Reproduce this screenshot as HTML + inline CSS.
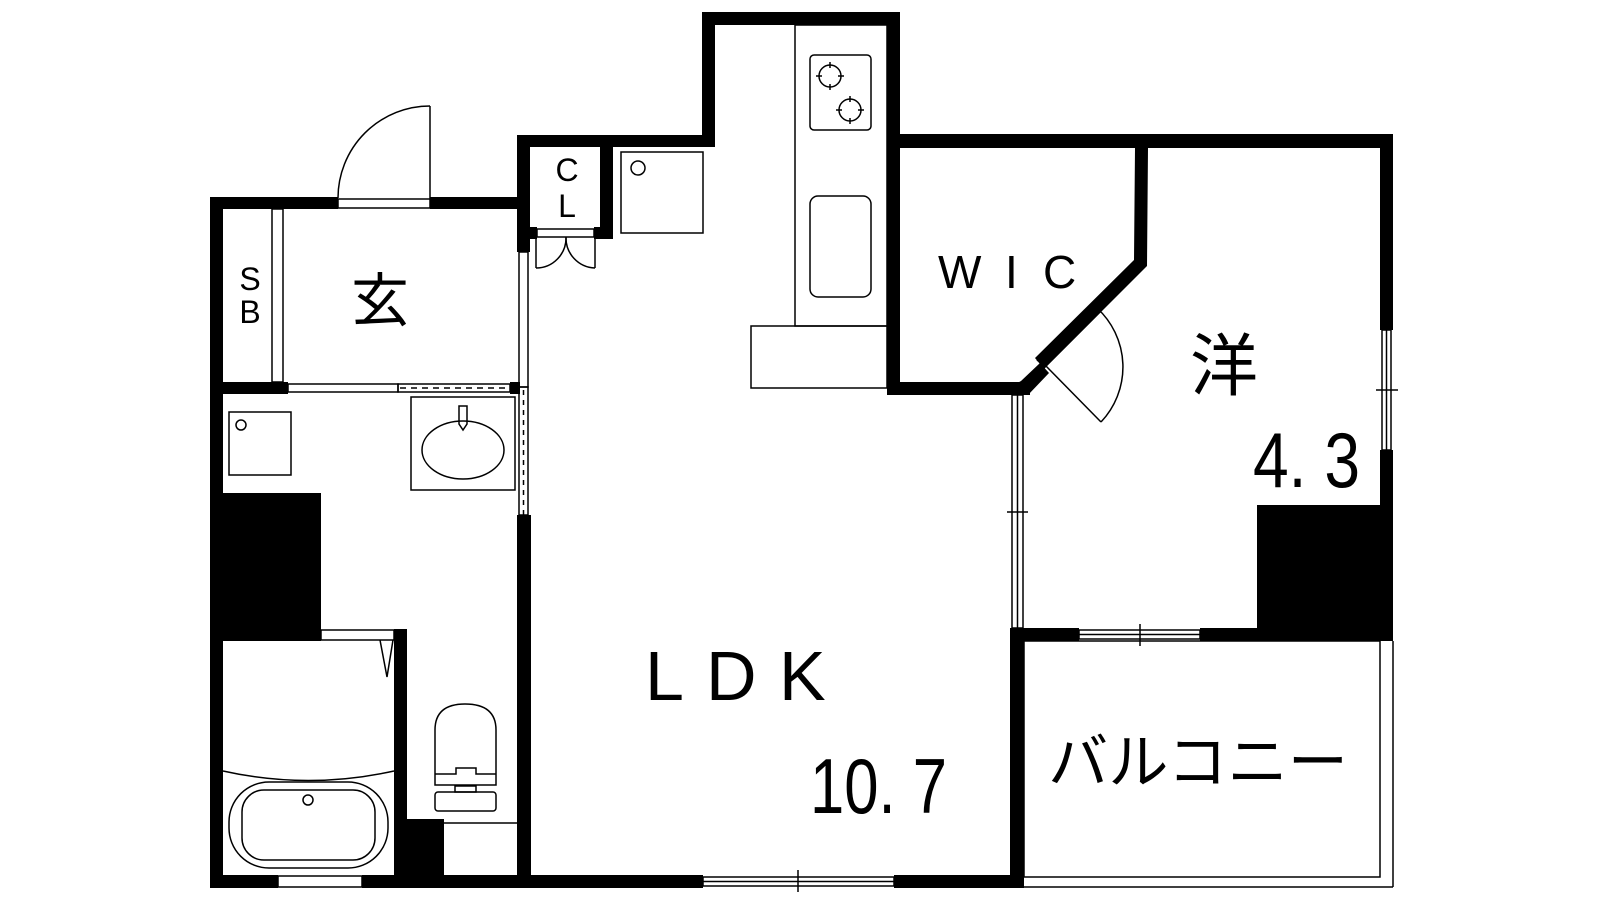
<!DOCTYPE html>
<html><head><meta charset="utf-8"><style>html,body{margin:0;padding:0;background:#fff}svg{display:block}</style></head><body>
<svg width="1600" height="900" viewBox="0 0 1600 900" xmlns="http://www.w3.org/2000/svg">
<g fill="#000" stroke="none">
<rect x="702" y="12" width="198" height="13"/>
<rect x="702" y="12" width="13" height="135"/>
<rect x="887" y="12" width="13" height="383"/>
<rect x="517" y="135" width="198" height="12"/>
<rect x="517" y="135" width="13" height="117"/>
<rect x="600" y="135" width="13" height="104"/>
<rect x="517" y="227" width="20" height="12"/>
<rect x="594" y="227" width="19" height="12"/>
<rect x="210" y="197" width="128" height="12"/>
<rect x="430" y="197" width="100" height="12"/>
<rect x="210" y="197" width="13" height="691"/>
<rect x="210" y="382" width="78" height="12"/>
<rect x="510" y="382" width="10" height="12"/>
<rect x="223" y="493" width="98" height="148"/>
<rect x="394" y="629" width="13" height="259"/>
<rect x="407" y="819" width="37" height="69"/>
<rect x="517" y="515" width="14" height="373"/>
<rect x="210" y="875" width="68" height="13"/>
<rect x="362" y="875" width="341" height="13"/>
<rect x="894" y="875" width="130" height="13"/>
<rect x="1010" y="628" width="14" height="260"/>
<rect x="887" y="134" width="506" height="14"/>
<rect x="1380" y="134" width="13" height="196"/>
<rect x="1380" y="450" width="13" height="190"/>
<rect x="1257" y="505" width="136" height="135"/>
<rect x="1010" y="628" width="69" height="13"/>
<rect x="1200" y="628" width="193" height="13"/>
<rect x="887" y="382" width="127" height="13"/>
<polygon points="1135,148 1148,148 1147,266 1044,369 1035,358 1134,260"/>
<polygon points="1021,381 1008,388 1014,395 1028,395 1049,373 1040,363"/>
<polygon points="1013,382 1030,382 1030,395 1013,395"/>
</g>
<g fill="none" stroke="#000" stroke-width="1.5">
<rect x="338" y="199" width="92" height="9"/>
<line x1="430" y1="106" x2="430" y2="199"/>
<path d="M430,106 A92,92 0 0 0 338,198"/>
<rect x="272" y="209" width="11" height="173"/>
<rect x="288" y="384" width="110" height="8"/>
<rect x="398" y="384" width="112" height="8"/>
<line x1="400" y1="388" x2="510" y2="388" stroke-dasharray="6,5"/>
<rect x="519" y="252" width="9" height="135"/>
<rect x="519" y="387" width="9" height="128"/>
<line x1="523.5" y1="390" x2="523.5" y2="515" stroke-dasharray="5,5"/>
<rect x="537" y="229" width="57" height="8"/>
<line x1="536" y1="237" x2="536" y2="268"/>
<path d="M536,268 A30,30 0 0 0 566,237"/>
<line x1="595" y1="237" x2="595" y2="268"/>
<path d="M595,268 A30,30 0 0 1 566,237"/>
<rect x="621" y="152" width="82" height="81"/>
<circle cx="638" cy="168" r="7"/>
<rect x="795" y="25" width="92" height="301"/>
<rect x="810" y="55" width="61" height="75" rx="4"/>
<circle cx="830" cy="76" r="11"/><circle cx="850" cy="110" r="11"/>
<path d="M830,62 V68 M830,84 V90 M816,76 H822 M838,76 H844 M850,96 V102 M850,118 V124 M836,110 H842 M858,110 H864"/>
<rect x="810" y="196" width="61" height="101" rx="8"/>
<rect x="751" y="326" width="136" height="62"/>
<rect x="411" y="397" width="104" height="93"/>
<ellipse cx="463" cy="450" rx="41" ry="29"/>
<path d="M459,406 L467,406 L467,424 L463,430 L459,424 Z"/>
<rect x="229" y="412" width="62" height="63"/>
<circle cx="241" cy="425" r="5"/>
<rect x="321" y="630" width="73" height="10"/>
<path d="M380,640 L387,677 L393,640"/>
<path d="M223,771 Q308,790 394,771"/>
<rect x="229" y="782" width="159" height="86" rx="40"/>
<rect x="242" y="790" width="133" height="70" rx="22"/>
<circle cx="308" cy="800" r="5"/>
<rect x="278" y="876" width="84" height="11"/>
<path d="M435,785 L435,730 Q435,704 465,704 Q496,704 496,730 L496,785 Z"/>
<path d="M435,774 L456,774 L456,768 L476,768 L476,774 L496,774"/>
<rect x="455" y="786" width="21" height="6"/>
<rect x="435" y="792" width="61" height="19" rx="3"/>
<line x1="444" y1="823" x2="517" y2="823"/>
<rect x="703" y="877" width="191" height="9"/>
<line x1="703" y1="881.5" x2="894" y2="881.5"/>
<line x1="798" y1="870" x2="798" y2="892"/>
<rect x="1012" y="395" width="11" height="233"/>
<line x1="1017.5" y1="395" x2="1017.5" y2="628"/>
<line x1="1007" y1="512" x2="1028" y2="512"/>
<rect x="1079" y="630" width="121" height="9"/>
<line x1="1079" y1="634.5" x2="1200" y2="634.5"/>
<line x1="1140" y1="624" x2="1140" y2="646"/>
<rect x="1382" y="330" width="9" height="120"/>
<line x1="1386.5" y1="330" x2="1386.5" y2="450"/>
<line x1="1376" y1="390" x2="1398" y2="390"/>
<line x1="1045" y1="365" x2="1101" y2="422"/>
<path d="M1101,422 A80,80 0 0 0 1097,308"/>
<line x1="1037" y1="361" x2="1095" y2="304"/>
<line x1="1044" y1="368" x2="1101" y2="311"/>
<rect x="1024" y="641" width="356" height="236"/>
<line x1="1024" y1="887" x2="1393" y2="887"/>
<line x1="1393" y1="641" x2="1393" y2="887"/>
</g>
<g fill="#000" font-family="'Liberation Sans','Noto Sans CJK JP',sans-serif">
<text x="250" y="290" font-size="32" text-anchor="middle">S</text>
<text x="250" y="323" font-size="32" text-anchor="middle">B</text>
<text x="567" y="181" font-size="32" text-anchor="middle">C</text>
<text x="567" y="217" font-size="32" text-anchor="middle">L</text>
<text x="380" y="321" font-size="58" text-anchor="middle" font-family="'Noto Sans CJK JP',sans-serif">玄</text>
<text x="938" y="288" font-size="46">W</text>
<text x="1005" y="288" font-size="46">I</text>
<text x="1043" y="288" font-size="46">C</text>
<text x="1224" y="390" font-size="68" text-anchor="middle" font-family="'Noto Sans CJK JP',sans-serif">洋</text>
<text x="1253" y="487" font-size="78" textLength="107" lengthAdjust="spacingAndGlyphs">4. 3</text>
<text x="645" y="700" font-size="70">L</text>
<text x="706" y="700" font-size="70">D</text>
<text x="779" y="700" font-size="70">K</text>
<text x="810" y="813" font-size="78" textLength="137" lengthAdjust="spacingAndGlyphs">10. 7</text>
<text x="1048" y="783" font-size="60" textLength="300" lengthAdjust="spacingAndGlyphs" font-family="'Noto Sans CJK JP',sans-serif">バルコニー</text>
</g>
</svg>
</body></html>
